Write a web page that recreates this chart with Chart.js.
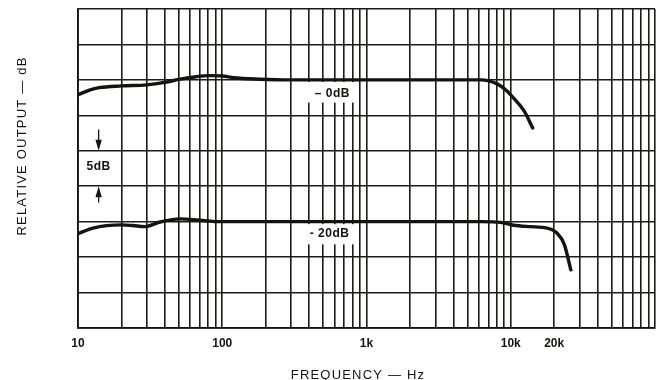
<!DOCTYPE html>
<html>
<head>
<meta charset="utf-8">
<script src="https://cdn.jsdelivr.net/npm/chart.js@4/dist/chart.umd.min.js"></script>
<style>
  html, body { margin: 0; padding: 0; background: #fff; }
  #wrap { width: 663px; height: 380px; }
</style>
</head>
<body>
<div id="wrap"><canvas id="c" width="663" height="380"></canvas></div>
<script>
// ---- data ----
const freq0dB  = [10, 12, 14, 20, 30, 40, 51, 66, 82, 100, 120, 180, 300, 1000, 3000, 6200, 8100, 9200, 10500, 12400, 14200];
const level0dB = [-2.1, -1.45, -1.1, -0.85, -0.7, -0.35, 0.1, 0.45, 0.6, 0.55, 0.3, 0.1, 0, 0, 0, 0, -0.6, -1.4, -2.6, -4.4, -6.8];

const freq20dB  = [10, 12.7, 20, 24, 29, 37, 51, 70, 97, 300, 1000, 3000, 6200, 8500, 10500, 13600, 17800, 20900, 23500, 26100];
const level20dB = [-21.7, -20.9, -20.45, -20.55, -20.7, -20.05, -19.6, -19.8, -20, -20, -20, -20, -20, -20.1, -20.5, -20.7, -20.9, -21.6, -23.2, -26.8];

const xTickValues = [10, 100, 1000, 10000, 20000];
const xTickLabels = ['10', '100', '1k', '10k', '20k'];
const yGridValues = [10, 5, 0, -5, -10, -15, -20, -25, -30, -35];
const gridMultipliers = [1, 2, 3, 4, 5, 6, 7, 8, 9];
const gridDecades = [10, 100, 1000, 10000];

const curveLabels = ['\u2013 0dB', '- 20dB'];
const xTitle = 'FREQUENCY \u2014 Hz';
const yTitle = 'RELATIVE OUTPUT \u2014 dB';
const scaleNote = '5dB';

// grid tick positions (1..9 per decade, plus right edge)
const xGridValues = [];
gridDecades.forEach(d => gridMultipliers.forEach(m => xGridValues.push(d * m)));
xGridValues.push(100000);

const INK = '#141311';
const FONT = '"Liberation Sans", "DejaVu Sans", sans-serif';

const annot = {
  id: 'annot',
  beforeDatasetsDraw(chart) {
    const { ctx, scales: { x, y } } = chart;
    ctx.save();
    ctx.fillStyle = '#fff';
    // white label boxes breaking the grid
    const bx0 = x.getPixelForValue(325), bx1 = x.getPixelForValue(870);
    ctx.fillRect(bx0, y.getPixelForValue(-0.3), bx1 - bx0, y.getPixelForValue(-3.2) - y.getPixelForValue(-0.3));
    ctx.fillRect(bx0, y.getPixelForValue(-20.35), bx1 - bx0, y.getPixelForValue(-23.2) - y.getPixelForValue(-20.35));
    ctx.restore();
  },
  afterDatasetsDraw(chart) {
    const { ctx, scales: { x, y } } = chart;
    ctx.save();
    ctx.fillStyle = INK;
    ctx.strokeStyle = INK;
    ctx.textAlign = 'center';
    ctx.textBaseline = 'middle';
    ctx.font = 'bold 12px ' + FONT;
    ctx.letterSpacing = '0.5px';
    ctx.fillText(curveLabels[0], x.getPixelForValue(580), y.getPixelForValue(-1.9));
    ctx.fillText(curveLabels[1], x.getPixelForValue(555), y.getPixelForValue(-21.7));
    ctx.fillText(scaleNote, x.getPixelForValue(13.9), y.getPixelForValue(-12.3));

    // dimension arrows
    const ax = x.getPixelForValue(13.9);
    function arrow(fromDb, toDb) {
      const y0 = y.getPixelForValue(fromDb), y1 = y.getPixelForValue(toDb);
      const dir = Math.sign(y1 - y0);
      ctx.lineWidth = 1.3;
      ctx.beginPath(); ctx.moveTo(ax, y0); ctx.lineTo(ax, y1 - dir * 6); ctx.stroke();
      ctx.beginPath();
      ctx.moveTo(ax, y1);
      ctx.lineTo(ax - 3.2, y1 - dir * 11);
      ctx.lineTo(ax + 3.2, y1 - dir * 11);
      ctx.closePath(); ctx.fill();
    }
    arrow(-7.0, -10);
    arrow(-17.3, -15);

    // axis titles
    ctx.font = '13px ' + FONT;
    ctx.letterSpacing = '1.2px';
    ctx.fillText(xTitle, 358, 375);
    ctx.translate(22, 146);
    ctx.rotate(-Math.PI / 2);
    ctx.fillText(yTitle, 0, 0);
    ctx.restore();
  }
};

new Chart(document.getElementById('c'), {
  type: 'line',
  data: {
    datasets: [
      { data: freq0dB.map((f, i) => ({ x: f, y: level0dB[i] })) },
      { data: freq20dB.map((f, i) => ({ x: f, y: level20dB[i] })) }
    ]
  },
  options: {
    responsive: false,
    devicePixelRatio: 1,
    animation: false,
    layout: { padding: { left: 0, right: 7, top: 9, bottom: 0 } },
    plugins: { legend: { display: false }, tooltip: { enabled: false } },
    elements: {
      point: { radius: 0 },
      line: { borderColor: INK, borderWidth: 3.4, cubicInterpolationMode: 'monotone', fill: false, borderCapStyle: 'round' }
    },
    scales: {
      x: {
        type: 'logarithmic',
        min: 10, max: 100000,
        afterBuildTicks: s => { s.ticks = xGridValues.map(v => ({ value: v })); },
        afterFit: s => { s.height = 52; },
        ticks: {
          autoSkip: false, maxRotation: 0, padding: 8,
          color: INK, font: { family: FONT, size: 12, weight: 'bold' },
          callback: v => { const i = xTickValues.indexOf(v); return i >= 0 ? xTickLabels[i] : ''; }
        },
        grid: { color: '#1c1b19', lineWidth: 1.6, drawTicks: false },
        border: { color: INK, width: 1.8 }
      },
      y: {
        min: -35, max: 10,
        afterBuildTicks: s => { s.ticks = yGridValues.map(v => ({ value: v })); },
        afterFit: s => { s.width = 78; },
        ticks: { display: false },
        grid: { color: '#1c1b19', lineWidth: 1.6, drawTicks: false },
        border: { color: INK, width: 1.8 }
      }
    }
  },
  plugins: [annot]
});
</script>
</body>
</html>
